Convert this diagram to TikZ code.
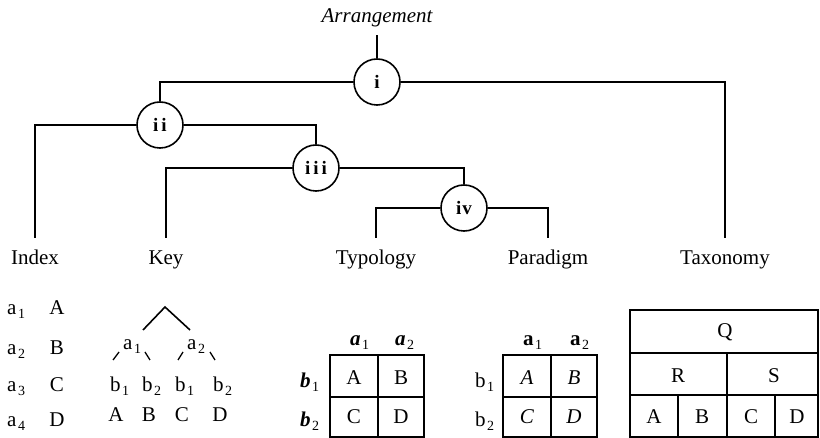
\documentclass[tikz,border=0pt]{standalone}
\usepackage{fontspec}
\setmainfont{Liberation Serif}
\newcommand\bigtxt{\fontsize{21}{24}\selectfont}
\newcommand\sbs[1]{\kern1.5pt\raisebox{-4pt}{\fontsize{14}{15}\selectfont #1}}
\tikzset{
  conn/.style={line width=1.6pt},
  circ/.style={circle,draw,line width=1.6pt,minimum size=46pt,inner sep=0pt,font=\fontsize{19}{21}\selectfont\bfseries},
  lab/.style={anchor=base,font=\bigtxt,text height=14pt,inner ysep=13pt,inner xsep=0pt},
  tx/.style={font=\bigtxt,inner sep=0pt,anchor=base},
  txw/.style={font=\bigtxt,inner sep=0pt,anchor=base west},
  gridl/.style={line width=1.5pt},
  tick/.style={line width=1.3pt},
}
\begin{document}
\begin{tikzpicture}[x=1pt,y=-1pt]
\useasboundingbox (0,0) rectangle (820,438);
% title
\node[anchor=base,font=\bigtxt\itshape,text depth=5pt,inner ysep=7pt] (arr) at (377,23) {Arrangement};
% circles
\node[circ] (i) at (377,82) {i};
\node[circ] (ii) at (160,125) {i\kern3pt i};
\node[circ] (iii) at (316,168) {i\kern3pt i\kern3pt i};
\node[circ] (iv) at (464,208) {i\kern1pt v};
% labels
\node[lab] (idx) at (35,265) {Index};
\node[lab] (key) at (166,265) {Key};
\node[lab] (typ) at (376,265) {Typology};
\node[lab] (par) at (548,265) {Paradigm};
\node[lab] (tax) at (725,265) {Taxonomy};
% connectors
\draw[conn] (arr.south) -- (i.north);
\draw[conn] (i.west) -| (ii.north);
\draw[conn] (i.east) -| (tax.north);
\draw[conn] (ii.west) -| (idx.north);
\draw[conn] (ii.east) -| (iii.north);
\draw[conn] (iii.west) -| (key.north);
\draw[conn] (iii.east) -| (iv.north);
\draw[conn] (iv.west) -| (typ.north);
\draw[conn] (iv.east) -| (par.north);
% Index list
\node[txw] (ia1) at (7,315) {a\sbs{1}};
\node[txw] (ia2) at (7,355) {a\sbs{2}};
\node[txw] (ia3) at (7,392) {a\sbs{3}};
\node[txw] (ia4) at (7,427) {a\sbs{4}};
\node[tx] (iA) at (57,315) {A};
\node[tx] (iB) at (57,355) {B};
\node[tx] (iC) at (57,392) {C};
\node[tx] (iD) at (57,427) {D};
% Key tree
\coordinate (kl) at (143,330);
\coordinate (kt) at (165,307);
\coordinate (kr) at (190,330);
\draw[conn] (kl) -- (kt) -- (kr);
\node[txw] (ka1) at (123,350) {a\sbs{1}};
\node[txw] (ka2) at (187,350) {a\sbs{2}};
\coordinate (s1a) at (113,360); \coordinate (s1b) at (119,352);
\coordinate (s2a) at (145,352); \coordinate (s2b) at (150,360);
\coordinate (s3a) at (178,360); \coordinate (s3b) at (183,352);
\coordinate (s4a) at (210,352); \coordinate (s4b) at (215,360);
\draw[tick] (s1a) -- (s1b);
\draw[tick] (s2a) -- (s2b);
\draw[tick] (s3a) -- (s3b);
\draw[tick] (s4a) -- (s4b);
\node[txw] (kb1) at (110,392) {b\sbs{1}};
\node[txw] (kb2) at (142,392) {b\sbs{2}};
\node[txw] (kb3) at (175,392) {b\sbs{1}};
\node[txw] (kb4) at (213,392) {b\sbs{2}};
\node[tx] (kA) at (116,422) {A};
\node[tx] (kB) at (149,422) {B};
\node[tx] (kC) at (182,422) {C};
\node[tx] (kD) at (220,422) {D};
% Typology table
\draw[gridl] (330,355) rectangle (424,437);
\draw[gridl] (378,355) -- (378,437);
\draw[gridl] (330,397) -- (424,397);
\node[txw] (ta1) at (350,346) {\textbf{\textit{a}}\sbs{1}};
\node[txw] (ta2) at (395,346) {\textbf{\textit{a}}\sbs{2}};
\node[txw] (tb1) at (300,388) {\textbf{\textit{b}}\sbs{1}};
\node[txw] (tb2) at (300,427) {\textbf{\textit{b}}\sbs{2}};
\node[tx] (tA) at (354,385) {A};
\node[tx] (tB) at (401,385) {B};
\node[tx] (tC) at (354,424) {C};
\node[tx] (tD) at (401,424) {D};
% Paradigm table
\draw[gridl] (503,355) rectangle (597,437);
\draw[gridl] (551,355) -- (551,437);
\draw[gridl] (503,397) -- (597,397);
\node[txw] (pa1) at (523,346) {\textbf{a}\sbs{1}};
\node[txw] (pa2) at (570,346) {\textbf{a}\sbs{2}};
\node[txw] (pb1) at (475,388) {b\sbs{1}};
\node[txw] (pb2) at (475,427) {b\sbs{2}};
\node[tx] (pA) at (527,385) {\textit{A}};
\node[tx] (pB) at (574,385) {\textit{B}};
\node[tx] (pC) at (527,424) {\textit{C}};
\node[tx] (pD) at (574,424) {\textit{D}};
% Taxonomy box
\draw[gridl] (630,310) rectangle (818,437);
\draw[gridl] (630,353) -- (818,353);
\draw[gridl] (630,395) -- (818,395);
\draw[gridl] (727,353) -- (727,437);
\draw[gridl] (678,395) -- (678,437);
\draw[gridl] (775,395) -- (775,437);
\node[tx] (xQ) at (725,338) {Q};
\node[tx] (xR) at (678,383) {R};
\node[tx] (xS) at (774,383) {S};
\node[tx] (xA) at (654,424) {A};
\node[tx] (xB) at (702,424) {B};
\node[tx] (xC) at (751,424) {C};
\node[tx] (xD) at (797,424) {D};
\end{tikzpicture}
\end{document}
